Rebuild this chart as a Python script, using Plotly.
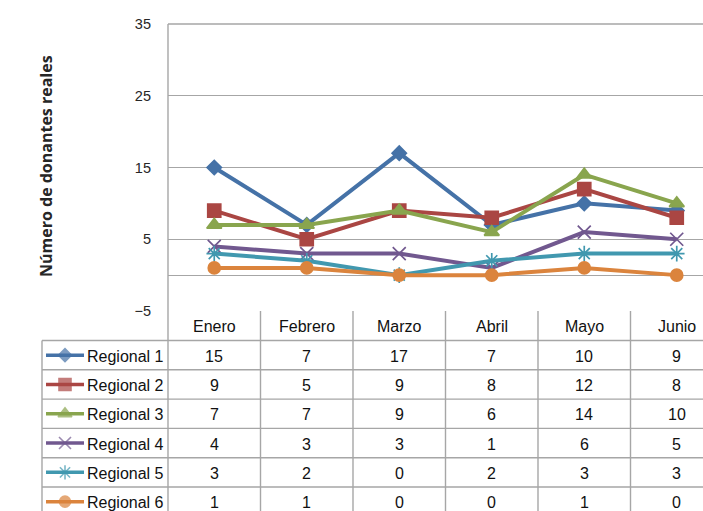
import plotly.graph_objects as go

# ---------------- data ----------------
months = ["Enero", "Febrero", "Marzo", "Abril", "Mayo", "Junio"]
series_names = ["Regional 1", "Regional 2", "Regional 3", "Regional 4", "Regional 5", "Regional 6"]
regional_1 = [15, 7, 17, 7, 10, 9]
regional_2 = [9, 5, 9, 8, 12, 8]
regional_3 = [7, 7, 9, 6, 14, 10]
regional_4 = [4, 3, 3, 1, 6, 5]
regional_5 = [3, 2, 0, 2, 3, 3]
regional_6 = [1, 1, 0, 0, 1, 0]
y_ticks = [-5, 5, 15, 25, 35]
y_title = "Número de donantes reales"

series_values = [regional_1, regional_2, regional_3, regional_4, regional_5, regional_6]

# ---------------- styles ----------------
colors = ["#4572A7", "#AA4643", "#89A54E", "#71588F", "#4198AF", "#DB843D"]
symbols = ["diamond", "square", "triangle-up", "x-thin-open", "asterisk-open", "circle"]
sizes = [11, 13, 13, 13, 13, 12]

W, H = 703, 511
PL, PR, PT, PB = 168, 703, 24, 311
COL_W = 92.5
ROW_TOP0, ROW_H = 340.5, 29.3
GRID = "#A6A6A6"
LW = 1.4
TABLE_FONT = dict(family="Liberation Sans, Arial", size=16, color="#111111")

fig = go.Figure()

for name, vals, c, sym, sz in zip(series_names, series_values, colors, symbols, sizes):
    fig.add_trace(go.Scatter(
        x=months, y=vals, mode="lines+markers", name=name,
        line=dict(color=c, width=4),
        marker=dict(symbol=sym, size=sz, color=c, line=dict(color=c, width=1.7)),
        xaxis="x", yaxis="y", showlegend=False, cliponaxis=False,
    ))

# legend keys inside the data table (pixel overlay axes)
for i, (c, sym, sz) in enumerate(zip(colors, symbols, sizes)):
    yc = ROW_TOP0 + ROW_H * (i + 0.5)
    fig.add_trace(go.Scatter(
        x=[46, 65, 84], y=[yc, yc, yc], mode="lines+markers",
        line=dict(color=c, width=3.5),
        marker=dict(symbol=sym, size=[0, sz - 1, 0], color=c, line=dict(color=c, width=1.6)),
        xaxis="x2", yaxis="y2", showlegend=False, hoverinfo="skip", cliponaxis=False,
    ))

shapes = []
shapes.append(dict(type="line", xref="x2", yref="y2", x0=PL, x1=PL, y0=PT, y1=H + 5,
                   line=dict(color=GRID, width=LW)))
shapes.append(dict(type="line", xref="x2", yref="y2", x0=PL, x1=W + 5, y0=PT, y1=PT,
                   line=dict(color=GRID, width=LW)))
for r in range(7):
    yy = ROW_TOP0 + ROW_H * r
    shapes.append(dict(type="line", xref="x2", yref="y2", x0=42, x1=W + 5, y0=yy, y1=yy,
                       line=dict(color=GRID, width=LW)))
shapes.append(dict(type="line", xref="x2", yref="y2", x0=42, x1=42, y0=ROW_TOP0, y1=H + 5,
                   line=dict(color=GRID, width=LW)))
for i in range(len(months) - 1):
    shapes.append(dict(type="line", xref="x", yref="y2", x0=i + 0.5, x1=i + 0.5, y0=PB, y1=H + 5,
                       line=dict(color=GRID, width=LW)))

annotations = []
for m in months:
    annotations.append(dict(xref="x", yref="y2", x=m, y=(PB + ROW_TOP0) / 2 + 1, text=m,
                            showarrow=False, font=TABLE_FONT, xanchor="center", yanchor="middle"))
for r, (name, vals) in enumerate(zip(series_names, series_values)):
    yc = ROW_TOP0 + ROW_H * (r + 0.5) + 1
    annotations.append(dict(xref="x2", yref="y2", x=85, y=yc, text=name, showarrow=False,
                            font=TABLE_FONT, xanchor="left", yanchor="middle"))
    for m, v in zip(months, vals):
        annotations.append(dict(xref="x", yref="y2", x=m, y=yc, text=str(v), showarrow=False,
                                font=TABLE_FONT, xanchor="center", yanchor="middle"))
annotations.append(dict(xref="x2", yref="y2", x=45.5, y=166.5, text="<b>" + y_title + "</b>",
                        textangle=-90, showarrow=False,
                        font=dict(family="Open Sans, Liberation Sans", size=16, color="#262626"),
                        xanchor="center", yanchor="middle"))

fig.update_layout(
    width=W, height=H, autosize=False,
    margin=dict(l=0, r=0, t=0, b=0, pad=0),
    paper_bgcolor="white", plot_bgcolor="rgba(0,0,0,0)",
    xaxis=dict(type="category", domain=[PL / W, 1], range=[-0.5, -0.5 + (PR - PL) / COL_W],
               showticklabels=False, showgrid=False, zeroline=False, showline=False,
               anchor="y", categoryorder="array", categoryarray=months, automargin=False),
    yaxis=dict(domain=[1 - PB / H, 1 - PT / H], range=[-5, 35], tickmode="array", tickvals=y_ticks,
               showgrid=True, gridcolor=GRID, gridwidth=LW,
               zeroline=True, zerolinecolor=GRID, zerolinewidth=LW,
               showline=False, ticks="", ticklabelstandoff=16, anchor="x", automargin=False,
               tickfont=dict(family="Liberation Sans, Arial", size=14.5, color="#262626")),
    xaxis2=dict(domain=[0, 1], range=[0, W], visible=False, anchor="y2", fixedrange=True, automargin=False),
    yaxis2=dict(domain=[0, 1], range=[H, 0], visible=False, anchor="x2", fixedrange=True, automargin=False),
    shapes=shapes, annotations=annotations,
)

fig.write_html("out.html", config={"displayModeBar": False},
               post_script="document.body.style.margin='0';document.body.style.overflow='hidden';")
